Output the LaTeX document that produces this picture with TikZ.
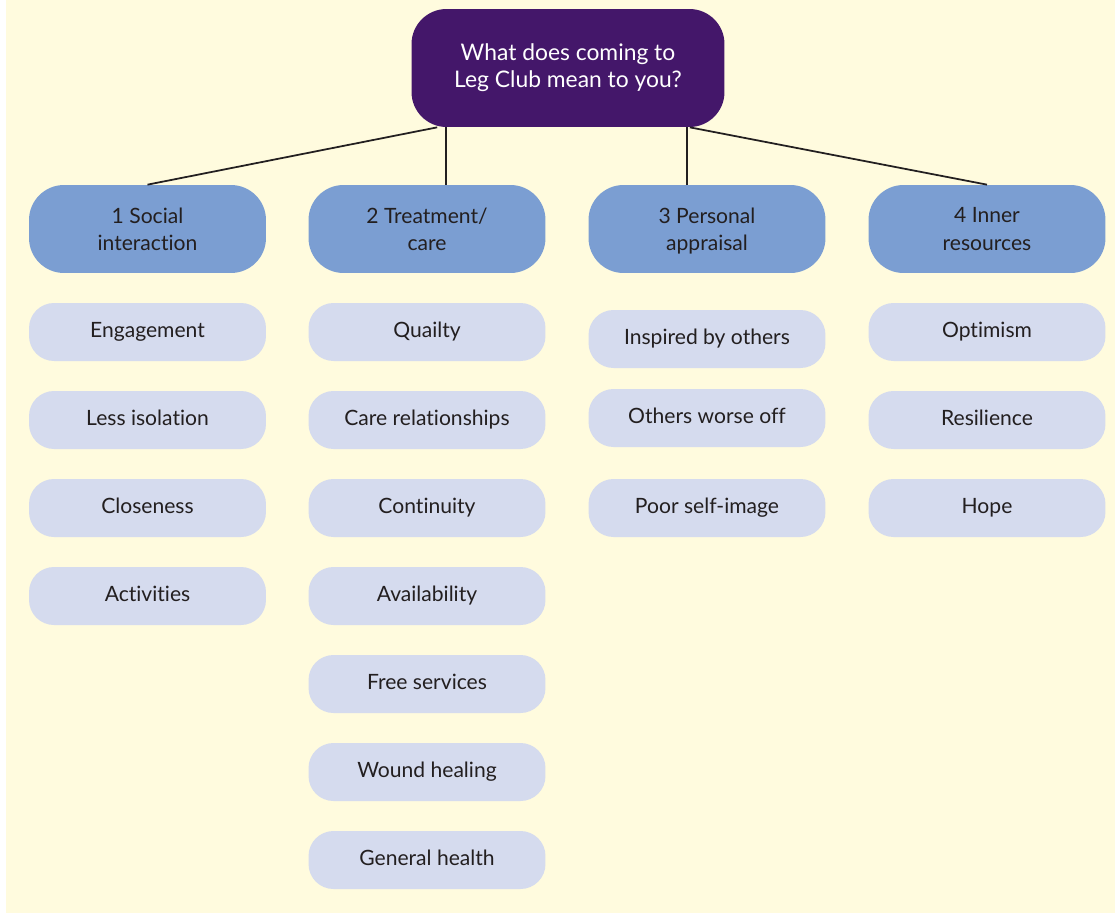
\documentclass[tikz,border=0pt]{standalone}
\usepackage{fontspec}
\setmainfont{Lato}[Ligatures={NoCommon}]
\usetikzlibrary{calc}
\definecolor{PaperClr}{RGB}{255,251,222}
\definecolor{TitleClr}{RGB}{68,23,106}
\definecolor{GroupClr}{RGB}{123,158,210}
\definecolor{ItemClr}{RGB}{213,219,238}
\definecolor{InkClr}{RGB}{35,31,32}

\begin{document}
\begin{tikzpicture}[x=0.02cm,y=-0.02cm,
  title/.style={fill=TitleClr,text=white,rounded corners=0.7cm,minimum width=6.26cm,minimum height=2.36cm,align=center,font=\fontsize{13}{15.5}\selectfont},
  group/.style={fill=GroupClr,text=InkClr,rounded corners=0.7cm,minimum width=4.74cm,minimum height=1.76cm,align=center,font=\fontsize{12}{15.5}\selectfont,text depth=0pt},
  item/.style={fill=ItemClr,text=InkClr,rounded corners=0.5cm,minimum width=4.74cm,minimum height=1.16cm,font=\fontsize{12}{15}\selectfont,execute at end node=\strut},
  link/.style={line width=1pt,color=InkClr}]
\useasboundingbox (0,0) rectangle (1115,913);
\fill[PaperClr] (6,0) rectangle (1115,913);

\node[title] (top) at (568,68) {What does coming to\\Leg Club mean to you?};

\node[group] (g1) at (147.5,229) {1 Social\\interaction};
\node[group] (g2) at (427,229) {2 Treatment/\\care};
\node[group] (g3) at (707,229) {3 Personal\\appraisal};
\node[group] (g4) at (987,229) {4 Inner\\resources};

\coordinate (k1) at ([xshift=0.52cm]top.south west);
\coordinate (k2) at ([xshift=0.69cm]top.south west);
\coordinate (k3) at ([xshift=-0.76cm]top.south east);
\coordinate (k4) at ([xshift=-0.7cm]top.south east);
\draw[link] (k1) -- (g1.north);
\draw[link] (k2) -- (k2 |- g2.north);
\draw[link] (k3) -- (k3 |- g3.north);
\draw[link] (k4) -- (g4.north);

\foreach \txt [count=\i] in {Engagement,Less isolation,Closeness,Activities}
  \node[item] (s\i) at (147.5,{244+88*\i}) {\txt};
\foreach \txt [count=\i] in {Quailty,Care relationships,Continuity,Availability,Free services,Wound healing,General health}
  \node[item] (t\i) at (427,{244+88*\i}) {\txt};
\foreach \txt/\y [count=\i] in {Inspired by others/339,Others worse off/418,Poor self-image/508}
  \node[item] (p\i) at (707,\y) {\txt};
\foreach \txt [count=\i] in {Optimism,Resilience,Hope}
  \node[item] (r\i) at (987,{244+88*\i}) {\txt};

\end{tikzpicture}
\end{document}
